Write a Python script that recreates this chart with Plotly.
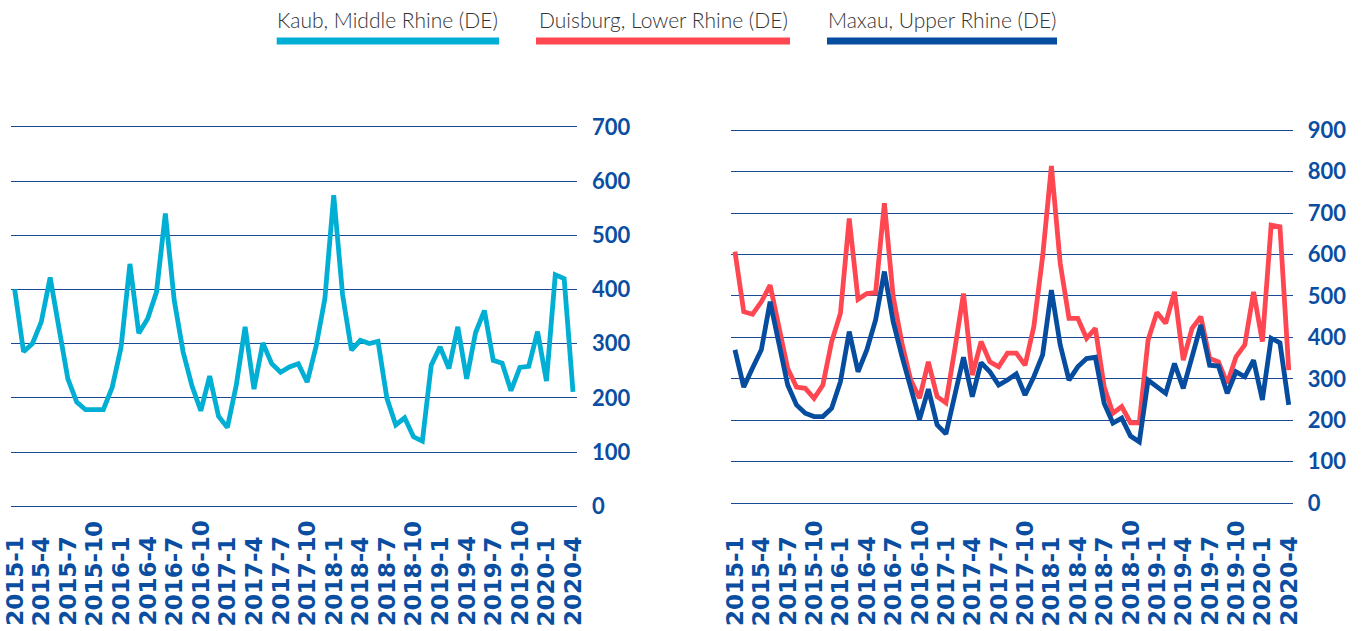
import plotly.graph_objects as go

# Monthly periods, Jan 2015 .. Apr 2020
periods = [f"{y}-{m}" for y in range(2015, 2021) for m in range(1, 13)][:64]
tick_labels = periods[::3]

kaub = [400, 285, 300, 340, 422, 330, 235, 192, 178, 178, 178, 219,
        293, 447, 319, 346, 395, 540, 380, 285, 222, 176, 240, 166,
        145, 223, 331, 216, 301, 263, 247, 257, 263, 229, 294, 383,
        574, 390, 288, 306, 300, 304, 199, 150, 163, 128, 120, 260,
        294, 254, 331, 235, 320, 361, 269, 264, 213, 256, 258, 322,
        231, 427, 420, 211]

duisburg = [607, 462, 456, 486, 526, 425, 325, 280, 277, 253, 285, 390,
            458, 687, 492, 506, 508, 724, 498, 386, 297, 253, 341, 257,
            242, 370, 506, 309, 390, 341, 329, 362, 362, 333, 426, 595,
            814, 579, 446, 446, 398, 422, 281, 217, 233, 194, 194, 394,
            460, 434, 510, 345, 422, 450, 349, 341, 289, 353, 382, 510,
            390, 671, 667, 321]

maxau = [370, 280, 326, 370, 486, 386, 285, 237, 217, 209, 209, 229,
         293, 414, 317, 370, 442, 559, 438, 354, 281, 202, 275, 189,
         167, 257, 352, 257, 339, 317, 285, 297, 312, 261, 305, 358,
         514, 382, 297, 329, 349, 352, 241, 193, 205, 162, 148, 297,
         280, 265, 337, 277, 353, 430, 333, 331, 265, 317, 305, 345,
         249, 398, 387, 237]

series_names = ["Kaub, Middle Rhine (DE)", "Duisburg, Lower Rhine (DE)", "Maxau, Upper Rhine (DE)"]
series_colors = ["#00AFD3", "#FF4751", "#064DA0"]

W, H = 1363, 631
NAVY = "#0A4EA2"
GRID = "#1B4A94"
LINE_W = 4.8


def y_layout(vmax, px_top, px_bottom, pad):
    """Range and domain so that 0 sits at px_bottom and vmax at px_top (pixels from top)."""
    per_unit = (px_bottom - px_top) / vmax
    top = px_top - pad * per_unit
    bottom = px_bottom + pad * per_unit
    return [-pad, vmax + pad], [1 - bottom / H, 1 - top / H]


y1_range, y1_domain = y_layout(700, 126.8, 506.2, 4)
y2_range, y2_domain = y_layout(900, 130.3, 503.1, 5)

fig = go.Figure()
fig.add_trace(go.Scatter(x=periods, y=kaub, mode="lines", name=series_names[0],
                         line=dict(color=series_colors[0], width=LINE_W), xaxis="x", yaxis="y"))
fig.add_trace(go.Scatter(x=periods, y=duisburg, mode="lines", name=series_names[1],
                         line=dict(color=series_colors[1], width=LINE_W), xaxis="x2", yaxis="y2"))
fig.add_trace(go.Scatter(x=periods, y=maxau, mode="lines", name=series_names[2],
                         line=dict(color=series_colors[2], width=LINE_W), xaxis="x2", yaxis="y2"))

xcommon = dict(type="category", categoryorder="array", categoryarray=periods,
               range=[-0.45, 63.45], showgrid=False, zeroline=False, showline=False,
               showticklabels=False, ticks="", automargin=False)
ycommon = dict(side="right", tick0=0, dtick=100, showgrid=True, gridcolor=GRID, gridwidth=1.4,
               zeroline=False, showline=False, ticks="", ticklabelstandoff=14, automargin=False,
               tickfont=dict(family="Lato", size=22, color=NAVY, weight="bold"))

fig.update_layout(
    width=W, height=H, autosize=False,
    margin=dict(l=0, r=0, t=0, b=0, autoexpand=False),
    paper_bgcolor="white", plot_bgcolor="white",
    showlegend=False,
    xaxis=dict(domain=[10.7 / W, 577 / W], anchor="y", **xcommon),
    yaxis=dict(domain=y1_domain, range=y1_range, anchor="x", **ycommon),
    xaxis2=dict(domain=[731 / W, 1292.7 / W], anchor="y2", **xcommon),
    yaxis2=dict(domain=y2_domain, range=y2_range, anchor="x2", **ycommon),
)

# Rotated period labels under both panels, aligned at their bottom edge
annotations = []
for xref in ("x", "x2"):
    for lab in tick_labels:
        annotations.append(dict(
            x=lab, xref=xref, y=1 - 628 / H, yref="paper", yanchor="bottom", xanchor="center",
            text=lab, textangle=-90, showarrow=False,
            font=dict(family="DejaVu Sans", size=23, color=NAVY, weight="bold")))

# Legend: label above a thick colour bar
legend_spans = [(276.7, 499), (536, 790), (827, 1057)]
shapes = []
for name, color, (x0, x1) in zip(series_names, series_colors, legend_spans):
    annotations.append(dict(
        x=(x0 + x1) / 2 / W, y=1 - 19.5 / H, xref="paper", yref="paper",
        xanchor="center", yanchor="middle", text=name, showarrow=False,
        font=dict(family="Lato", size=21, color="#333333", weight=300)))
    shapes.append(dict(type="line", xref="paper", yref="paper",
                       x0=x0 / W, x1=x1 / W, y0=1 - 41 / H, y1=1 - 41 / H,
                       line=dict(color=color, width=7)))

fig.update_layout(annotations=annotations, shapes=shapes)

fig.write_html("out.html")
